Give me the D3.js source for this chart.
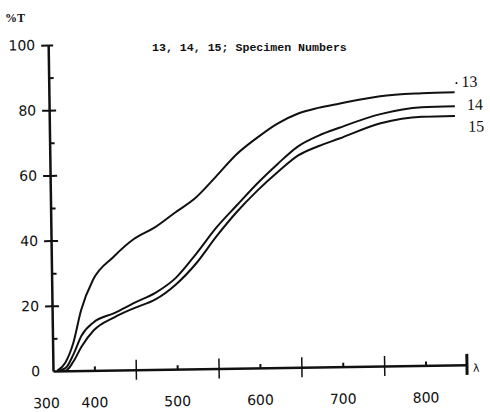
<!DOCTYPE html>
<meta charset="utf-8">
<head>
<style>
body { margin: 0; background: #fff; }
svg { display: block; }
.lbl { font-family: 'DejaVu Sans', sans-serif; font-size: 14px; fill: #111; }
.curve { fill: none; stroke: #111; stroke-width: 2; }
.axis path, .axis line { stroke: #111; }
</style>
<script src="https://d3js.org/d3.v7.min.js"></script>
</head>
<body>
<svg id="chart"></svg>
<script>

// wavelength (nm) and %T for each specimen
var wavelengths = [355, 365, 375, 385, 400, 425, 450, 475, 500, 525, 550, 575, 600, 625, 650, 675, 700, 750, 800, 840]
var spec13 = [0, 2.5, 8.5, 18.5, 27.8, 34.7, 40.1, 43.5, 48, 52.4, 58.8, 65.5, 70.5, 74.8, 77.8, 79.5, 80.7, 82.8, 83.5, 83.7]
var spec14 = [0, 0.8, 5, 10.7, 14.8, 17.5, 20.6, 23.5, 28, 35.3, 43.3, 50, 56.6, 62.5, 67.8, 71, 73.3, 77.3, 79.2, 79.4]
var spec15 = [0, 0, 2.9, 7.4, 12.3, 16.2, 19, 21.5, 26, 32.4, 40.6, 48, 54.4, 60, 65, 67.8, 70, 74.5, 76.3, 76.4]
var seriesNames = ['13', '14', '15']

var xMajor = [450, 550, 650, 750]
var xMinor = [400, 500, 600, 700, 800]
var xLabels = [300, 400, 500, 600, 700, 800]
var yMajor = [20, 40, 60, 80]
var yMinor = [10, 30, 50, 70, 90]
var yLabels = [0, 20, 40, 60, 80, 100]

var width = 490, height = 412
var origin = {x: 53, y: 371}

var svg = d3.select('#chart').attr('width', width).attr('height', height)

var x = d3.scaleLinear().domain([350, 850]).range([origin.x, 467])
var y = d3.scaleLinear().domain([0, 100]).range([origin.y, 45])

// scanned page is slightly skewed
var g = svg.append('g')
  .attr('transform', 'rotate(-0.85,' + origin.x + ',' + origin.y + ')')

// x axis: crossing ticks made of a bottom + top axis
g.append('g').attr('class', 'axis')
  .attr('transform', 'translate(0,' + origin.y + ')')
  .call(d3.axisBottom(x).tickValues(xMajor).tickSizeInner(10).tickSizeOuter(0).tickFormat(''))
  .call(function (s) { s.select('.domain').attr('stroke-width', 2.5); s.selectAll('line').attr('stroke-width', 1.5) })
g.append('g').attr('class', 'axis')
  .attr('transform', 'translate(0,' + origin.y + ')')
  .call(d3.axisTop(x).tickValues(xMajor).tickSizeInner(10).tickSizeOuter(0).tickFormat(''))
  .call(function (s) { s.select('.domain').remove(); s.selectAll('line').attr('stroke-width', 1.5) })
g.append('g').attr('class', 'axis')
  .attr('transform', 'translate(0,' + origin.y + ')')
  .call(d3.axisTop(x).tickValues(xMinor).tickSizeInner(4).tickSizeOuter(0).tickFormat(''))
  .call(function (s) { s.select('.domain').remove(); s.selectAll('line').attr('stroke-width', 2) })
// heavy end bar
g.append('line')
  .attr('x1', x(850)).attr('x2', x(850))
  .attr('y1', origin.y - 11).attr('y2', origin.y + 10)
  .attr('stroke', '#111').attr('stroke-width', 3)

// y axis
g.append('g').attr('class', 'axis')
  .attr('transform', 'translate(' + origin.x + ',0)')
  .call(d3.axisLeft(y).tickValues(yMajor.concat([100])).tickSizeInner(7).tickSizeOuter(0).tickFormat(''))
  .call(function (s) { s.select('.domain').attr('stroke-width', 2.5); s.selectAll('line').attr('stroke-width', 2) })
g.append('g').attr('class', 'axis')
  .attr('transform', 'translate(' + origin.x + ',0)')
  .call(d3.axisRight(y).tickValues(yMajor).tickSizeInner(7).tickSizeOuter(0).tickFormat(''))
  .call(function (s) { s.select('.domain').remove(); s.selectAll('line').attr('stroke-width', 2) })
g.append('g').attr('class', 'axis')
  .attr('transform', 'translate(' + origin.x + ',0)')
  .call(d3.axisRight(y).tickValues(yMinor.concat([100])).tickSizeInner(5).tickSizeOuter(0).tickFormat(''))
  .call(function (s) { s.select('.domain').remove(); s.selectAll('line').attr('stroke-width', 2) })

// tick labels
g.selectAll('.ylbl').data(yLabels).enter().append('text')
  .attr('class', 'lbl ylbl')
  .attr('x', origin.x - 13)
  .attr('y', function (d) { return y(d) + 5 })
  .attr('text-anchor', 'end')
  .text(function (d) { return d })

g.selectAll('.xlbl').data(xLabels).enter().append('text')
  .attr('class', 'lbl xlbl')
  .attr('x', function (d) { return d === 300 ? x(350) - 7 : x(d) })
  .attr('y', origin.y + 37)
  .attr('text-anchor', 'middle')
  .text(function (d) { return d })

g.append('text')
  .attr('class', 'lbl')
  .attr('x', x(850) + 6)
  .attr('y', origin.y + 7)
  .style('font-size', '11px')
  .text('λ')

// curves
var line = d3.line()
  .x(function (d) { return x(d[0]) })
  .y(function (d) { return y(d[1]) })
  .curve(d3.curveMonotoneX)

var series = [spec13, spec14, spec15]
var labelOff = [[7, -5], [12, 4], [13, 16]]

series.forEach(function (vals, i) {
  var pts = wavelengths.map(function (w, j) { return [w, vals[j]] })
  g.append('path').attr('class', 'curve').attr('d', line(pts))
  var last = pts[pts.length - 1]
  g.append('text')
    .attr('x', x(last[0]) + labelOff[i][0])
    .attr('y', y(last[1]) + labelOff[i][1])
    .style('font-family', "'Liberation Serif', serif")
    .style('font-size', '16px')
    .attr('fill', '#111')
    .text(seriesNames[i])
})
// little mark before "13"
g.append('circle')
  .attr('cx', x(840) + 2).attr('cy', y(spec13[spec13.length - 1]) - 9)
  .attr('r', 1).attr('fill', '#111')

// title and axis name
svg.append('text')
  .attr('x', 152).attr('y', 51)
  .style('font-family', "'Liberation Mono', monospace")
  .style('font-size', '11.6px')
  .style('font-weight', 'bold')
  .attr('fill', '#111')
  .text('13, 14, 15; Specimen Numbers')

svg.append('text')
  .attr('x', 5).attr('y', 22)
  .style('font-family', "'Liberation Serif', serif")
  .style('font-size', '12px')
  .style('font-weight', 'bold')
  .attr('fill', '#111')
  .text('%T')

</script>
</body>
